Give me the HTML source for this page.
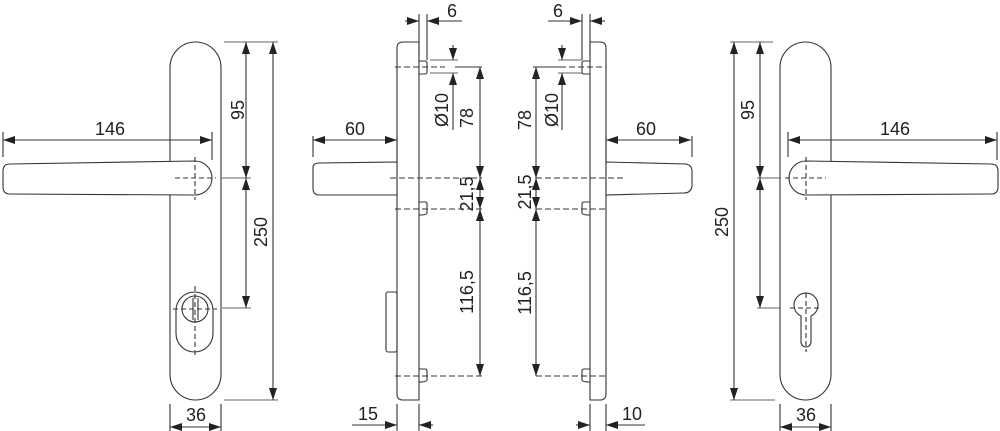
<!DOCTYPE html>
<html><head><meta charset="utf-8"><style>
html,body{margin:0;padding:0;background:#fff;width:1000px;height:431px;overflow:hidden}
text{font-family:"Liberation Sans",Arial,sans-serif;font-size:18px;fill:#222}
</style></head><body>
<svg width="1000" height="431" viewBox="0 0 1000 431" xmlns="http://www.w3.org/2000/svg">
<defs>
<marker id="a" viewBox="0 0 12 8" refX="12" refY="4" markerWidth="12" markerHeight="8" markerUnits="userSpaceOnUse" orient="auto-start-reverse"><path d="M0,0 L12,4 L0,8 Z" fill="#222"/></marker>
</defs>
<g fill="none" stroke="#333" stroke-width="1.1">
<!-- LEFT FRONT -->
<rect x="170" y="42" width="51" height="358" rx="25.5" fill="#fff"/>
<path d="M195,161 A17,17 0 0 1 195,195 L10,194 Q3,194 3,187 L3,171 Q3,164 10,164 Z" fill="#fff"/>
<path d="M175,178 H216 M195,157 V200" stroke-dasharray="5,3"/>
<rect x="176" y="292" width="37" height="60" rx="18.5"/>
<circle cx="195" cy="309" r="13"/>
<path d="M193,298 V320 M198,298 V320"/>
<path d="M173,309 H217 M195,286 V358" stroke-dasharray="5,3"/>
<path d="M3,157 V132 M212,160 V132"/>
<path d="M3,140 H212" marker-start="url(#a)" marker-end="url(#a)"/>
<path d="M224,42 H278 M221,178 H251 M222,308 H251 M224,400 H278" stroke="#666"/>
<path d="M246,42 V178" marker-start="url(#a)" marker-end="url(#a)"/>
<path d="M246,178 V308" marker-start="url(#a)" marker-end="url(#a)"/>
<path d="M273,42 V400" marker-start="url(#a)" marker-end="url(#a)"/>
<path d="M170,404 V431 M221,404 V431"/>
<path d="M170,427 H221" marker-start="url(#a)" marker-end="url(#a)"/>

<!-- LEFT SIDE -->
<path d="M419,42 H403 Q397,42 397,48 V394 Q397,400 403,400 H419 Z" fill="#fff"/>
<path d="M419,61 H425 Q427,61 427,63 V72 Q427,74 425,74 H419 M419,202 H425 Q427,202 427,204 V213 Q427,215 419,215 M419,369 H425 Q427,369 427,371 V380 Q427,382 419,382"/>
<path d="M313,168 Q313,163 319,163 L397,162 V195 L319,195 Q313,195 313,188 Z" fill="#fff"/>
<rect x="386" y="292" width="11" height="60" rx="2"/>
<path d="M395,67 H445 M390,178 H482 M395,209 H482 M395,376 H482" stroke-dasharray="6,3"/>
<path d="M313,157 V136 M397,162 V136"/>
<path d="M313,140 H397" marker-start="url(#a)" marker-end="url(#a)"/>
<path d="M419,14 V56 M427,14 V60"/>
<path d="M405,21 H419" marker-end="url(#a)"/>
<path d="M462,21 H427" marker-end="url(#a)"/>
<path d="M430,60 H458 M430,73 H458" stroke="#666"/>
<path d="M453,45 V60" marker-end="url(#a)"/>
<path d="M453,130 V73" marker-end="url(#a)"/>
<path d="M482,67 H455"/>
<path d="M480,67 V178" marker-start="url(#a)" marker-end="url(#a)"/>
<path d="M480,178 V209" marker-start="url(#a)" marker-end="url(#a)"/>
<path d="M480,209 V376" marker-start="url(#a)" marker-end="url(#a)"/>
<path d="M397,404 V431 M419,404 V431"/>
<path d="M352,425 H397" marker-end="url(#a)"/>
<path d="M433,425 H419" marker-end="url(#a)"/>

<!-- RIGHT SIDE -->
<path d="M590,42 H600 Q606,42 606,48 V394 Q606,400 600,400 H590 Z" fill="#fff"/>
<path d="M590,61 H584 Q582,61 582,63 V72 Q582,74 584,74 H590 M590,202 H584 Q582,202 582,204 V213 Q582,215 590,215 M590,369 H584 Q582,369 582,371 V380 Q582,382 590,382"/>
<path d="M606,162 L686,164 Q692,165 692,172 L692,186 Q691,193 684,193 L606,195 Z" fill="#fff"/>
<path d="M560,67 H606 M536,178 H625 M536,209 H605 M536,376 H605" stroke-dasharray="6,3"/>
<path d="M692,157 V136 M606,162 V136"/>
<path d="M606,140 H691" marker-start="url(#a)" marker-end="url(#a)"/>
<path d="M582,14 V60 M590,14 V56"/>
<path d="M548,21 H582" marker-end="url(#a)"/>
<path d="M605,21 H590" marker-end="url(#a)"/>
<path d="M558,60 H582 M558,73 H582" stroke="#666"/>
<path d="M562,45 V60" marker-end="url(#a)"/>
<path d="M562,130 V73" marker-end="url(#a)"/>
<path d="M533,67 H560"/>
<path d="M536,67 V178" marker-start="url(#a)" marker-end="url(#a)"/>
<path d="M536,178 V209" marker-start="url(#a)" marker-end="url(#a)"/>
<path d="M536,209 V376" marker-start="url(#a)" marker-end="url(#a)"/>
<path d="M590,404 V431 M606,404 V431"/>
<path d="M576,425 H590" marker-end="url(#a)"/>
<path d="M645,425 H606" marker-end="url(#a)"/>

<!-- RIGHT FRONT -->
<rect x="780" y="42" width="51" height="358" rx="25.5" fill="#fff"/>
<path d="M806,161 A17,17 0 0 0 806,195 L991,194 Q998,194 998,187 L998,171 Q998,164 991,164 Z" fill="#fff"/>
<path d="M785,178 H826 M806,157 V200" stroke-dasharray="5,3"/>
<path d="M801,316 A12,12 0 1 1 811,316 V342 A5,5 0 0 1 801,342 Z"/>
<path d="M790,308 H822 M806,293 V352" stroke-dasharray="5,3"/>
<path d="M788,157 V132 M997,160 V132"/>
<path d="M788,140 H997" marker-start="url(#a)" marker-end="url(#a)"/>
<path d="M730,42 H773 M757,178 H781 M757,308 H781 M730,400 H775" stroke="#666"/>
<path d="M760,42 V178" marker-start="url(#a)" marker-end="url(#a)"/>
<path d="M760,178 V308" marker-start="url(#a)" marker-end="url(#a)"/>
<path d="M734,42 V400" marker-start="url(#a)" marker-end="url(#a)"/>
<path d="M780,404 V431 M831,404 V431"/>
<path d="M780,427 H831" marker-start="url(#a)" marker-end="url(#a)"/>
</g>
<g text-anchor="middle">
<text x="110" y="135">146</text>
<text transform="translate(238,110) rotate(-90)" dy="6">95</text>
<text transform="translate(261,232) rotate(-90)" dy="6">250</text>
<text x="196" y="421">36</text>
<text x="355" y="135">60</text>
<text x="452" y="17">6</text>
<text transform="translate(442,110) rotate(-90)" dy="6">Ø10</text>
<text transform="translate(467,118) rotate(-90)" dy="6">78</text>
<text transform="translate(467,194) rotate(-90)" dy="6">21,5</text>
<text transform="translate(467,292) rotate(-90)" dy="6">116,5</text>
<text x="368" y="420">15</text>
<text x="558" y="17">6</text>
<text transform="translate(552,110) rotate(-90)" dy="6">Ø10</text>
<text transform="translate(525,120) rotate(-90)" dy="6">78</text>
<text transform="translate(525,192) rotate(-90)" dy="6">21,5</text>
<text transform="translate(525,293) rotate(-90)" dy="6">116,5</text>
<text x="646" y="135">60</text>
<text x="632" y="420">10</text>
<text x="895" y="135">146</text>
<text transform="translate(748,110) rotate(-90)" dy="6">95</text>
<text transform="translate(722,222) rotate(-90)" dy="6">250</text>
<text x="806" y="421">36</text>
</g>
</svg>
</body></html>
